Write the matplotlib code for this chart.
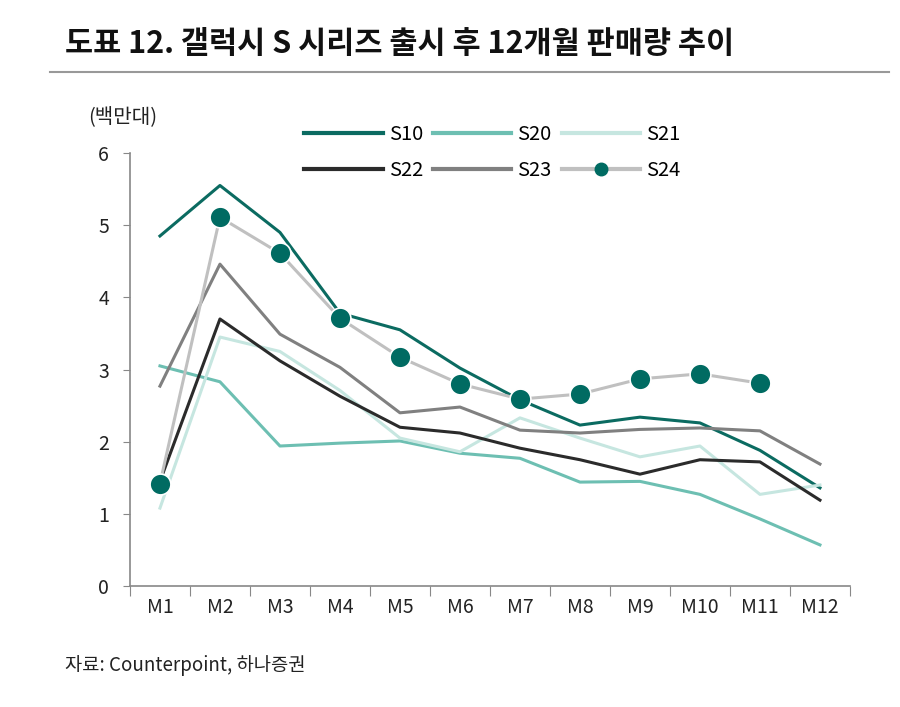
import matplotlib
matplotlib.use("Agg")
import matplotlib.pyplot as plt
from matplotlib.lines import Line2D

plt.rcParams['font.family'] = ['Noto Sans CJK KR', 'DejaVu Sans']

# 월별 카테고리
months = ['M1', 'M2', 'M3', 'M4', 'M5', 'M6', 'M7', 'M8', 'M9', 'M10', 'M11', 'M12']

# 시리즈별 판매량 (백만대)
s10 = [4.85, 5.55, 4.90, 3.78, 3.55, 3.02, 2.58, 2.23, 2.34, 2.26, 1.88, 1.36]
s20 = [3.05, 2.83, 1.94, 1.98, 2.01, 1.84, 1.77, 1.44, 1.45, 1.27, 0.93, 0.57]
s21 = [1.08, 3.45, 3.25, 2.71, 2.05, 1.86, 2.33, 2.05, 1.79, 1.94, 1.27, 1.40]
s22 = [1.45, 3.70, 3.12, 2.63, 2.20, 2.12, 1.91, 1.75, 1.55, 1.75, 1.72, 1.19]
s23 = [2.77, 4.46, 3.49, 3.03, 2.40, 2.48, 2.16, 2.12, 2.17, 2.19, 2.15, 1.69]
s24 = [1.42, 5.11, 4.61, 3.71, 3.17, 2.80, 2.59, 2.66, 2.87, 2.94, 2.81]

fig = plt.figure(figsize=(9, 7.07), dpi=100)
ax = fig.add_axes([0.1444, 0.1711, 0.8, 0.6125])

x = list(range(len(months)))
ax.plot(x, s10, color='#0b6b61', lw=2.2, label='S10')
ax.plot(x, s20, color='#6dbfb2', lw=2.2, label='S20')
ax.plot(x, s21, color='#c6e6e0', lw=2.2, label='S21')
ax.plot(x, s22, color='#2b2b2b', lw=2.2, label='S22')
ax.plot(x, s23, color='#808080', lw=2.2, label='S23')
ax.plot(x[:len(s24)], s24, color='#c0c0c0', lw=2.2, zorder=4)
ax.plot(x[:len(s24)], s24, ls='none', marker='o', ms=15, mfc='#006b62',
        mec='white', mew=1.2, zorder=5)

ax.set_xlim(-0.5, len(months) - 0.5)
ax.set_ylim(0, 6)
ax.set_yticks(range(0, 7))
ax.set_xticks([i - 0.5 for i in range(len(months) + 1)], minor=False)
ax.set_xticklabels([])
ax.set_xticks(x, minor=True)
ax.set_xticklabels(months, minor=True)
ax.tick_params(axis='x', which='minor', length=0, pad=8, labelsize=14, colors='#222222')
ax.tick_params(axis='x', which='major', length=7, color='#888888')
ax.tick_params(axis='y', length=5, color='#888888', labelsize=14, labelcolor='#222222', pad=10)
for side in ['top', 'right']:
    ax.spines[side].set_visible(False)
for side in ['left', 'bottom']:
    ax.spines[side].set_color('#888888')
    ax.spines[side].set_linewidth(1.2)

# 범례: 행 우선 배치를 위해 열 순서로 나열
h = {
    'S10': Line2D([], [], color='#0b6b61', lw=3),
    'S20': Line2D([], [], color='#6dbfb2', lw=3),
    'S21': Line2D([], [], color='#c6e6e0', lw=3),
    'S22': Line2D([], [], color='#2b2b2b', lw=3),
    'S23': Line2D([], [], color='#808080', lw=3),
    'S24': Line2D([], [], color='#c0c0c0', lw=3, marker='o', ms=9, mfc='#006b62', mec='#006b62'),
}
order = ['S10', 'S22', 'S20', 'S23', 'S21', 'S24']
fig.legend([h[k] for k in order], order, ncol=3, frameon=False, fontsize=14.5,
           loc='center', bbox_to_anchor=(0.547, 0.784), handlelength=3.9,
           handletextpad=0.3, columnspacing=0.5, labelspacing=0.75)

fig.text(0.098, 0.833, '(백만대)', fontsize=14.5, color='#222222', va='center')

fig.text(0.072, 0.938, '도표 12. 갤럭시 S 시리즈 출시 후 12개월 판매량 추이',
         fontsize=22, fontweight='bold', color='#111111', va='center')
fig.add_artist(Line2D([0.055, 0.988], [0.898, 0.898], color='#999999', lw=1.5))

fig.text(0.072, 0.059, '자료: Counterpoint, 하나증권', fontsize=13.5, color='#222222', va='center')

fig.savefig('out.png', dpi=100)
